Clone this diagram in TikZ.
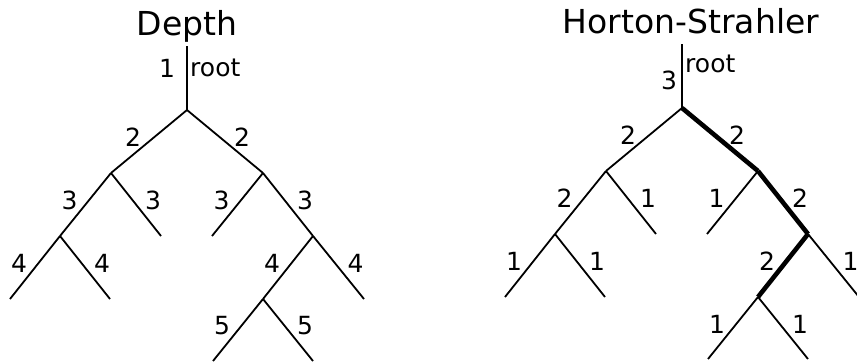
\documentclass[tikz,border=0pt]{standalone}
\usepackage{fontspec}
\setmainfont{DejaVu Sans}
\usetikzlibrary{calc}

\begin{document}
\begin{tikzpicture}[x=1pt,y=-1pt,
  edge/.style={line width=1.8pt},
  main/.style={line width=4.6pt},
  num/.style={font=\fontsize{25}{30}\selectfont,inner sep=0pt},
  ttl/.style={font=\fontsize{33}{40}\selectfont,inner sep=0pt,anchor=base},
  lft/.style={num,midway,xshift=-16pt,yshift=4pt},
  rgt/.style={num,midway,xshift=17pt,yshift=4pt}]
\useasboundingbox (0,0) rectangle (857,362);
% Depth tree
\node[ttl] (dttl) at (187,35) {Depth};
\coordinate (dtop) at (187,46);
\coordinate (droot) at (187,110);
\coordinate (dL) at (111,173);
\coordinate (dR) at (263,173);
\coordinate (dLL) at (60,236);
\coordinate (dLR) at (161,236);
\coordinate (dRL) at (212,236);
\coordinate (dRR) at (313,236);
\coordinate (dLLL) at (10,299);
\coordinate (dLLR) at (110,299);
\coordinate (dRRL) at (263,299);
\coordinate (dRRR) at (364,299);
\coordinate (dRRLL) at (213,361);
\coordinate (dRRLR) at (313,361);
\draw[edge] (dtop) -- (droot);
\node[num] (d1) at (167,68) {1};
\node[num,anchor=west] (dlbl) at (190,68) {root};
\draw[edge] (droot) -- (dL) node[lft] {2};
\draw[edge] (droot) -- (dR) node[rgt] {2};
\draw[edge] (dL) -- (dLL) node[lft] {3};
\draw[edge] (dL) -- (dLR) node[rgt] {3};
\draw[edge] (dR) -- (dRL) node[lft] {3};
\draw[edge] (dR) -- (dRR) node[rgt] {3};
\draw[edge] (dLL) -- (dLLL) node[lft] {4};
\draw[edge] (dLL) -- (dLLR) node[rgt] {4};
\draw[edge] (dRR) -- (dRRL) node[lft] {4};
\draw[edge] (dRR) -- (dRRR) node[rgt] {4};
\draw[edge] (dRRL) -- (dRRLL) node[lft] {5};
\draw[edge] (dRRL) -- (dRRLR) node[rgt] {5};
% Horton-Strahler tree
\node[ttl] (httl) at (691,33) {Horton-Strahler};
\coordinate (htop) at (682,44);
\coordinate (hroot) at (682,108);
\coordinate (hL) at (606,171);
\coordinate (hR) at (758,171);
\coordinate (hLL) at (555,234);
\coordinate (hLR) at (656,234);
\coordinate (hRL) at (707,234);
\coordinate (hRR) at (808,234);
\coordinate (hLLL) at (505,297);
\coordinate (hLLR) at (605,297);
\coordinate (hRRL) at (758,297);
\coordinate (hRRR) at (859,297);
\coordinate (hRRLL) at (708,359);
\coordinate (hRRLR) at (808,359);
\draw[edge] (htop) -- (hroot);
\node[num] (h3) at (669,80) {3};
\node[num,anchor=west] (hlbl) at (685,64) {root};
\draw[edge] (hroot) -- (hL) node[lft] {2};
\draw[main] (hroot) -- (hR) node[rgt] {2};
\draw[edge] (hL) -- (hLL) node[lft] {2};
\draw[edge] (hL) -- (hLR) node[rgt] {1};
\draw[edge] (hR) -- (hRL) node[lft] {1};
\draw[main] (hR) -- (hRR) node[rgt] {2};
\draw[edge] (hLL) -- (hLLL) node[lft] {1};
\draw[edge] (hLL) -- (hLLR) node[rgt] {1};
\draw[main] (hRR) -- (hRRL) node[lft] {2};
\draw[edge] (hRR) -- (hRRR) node[rgt] {1};
\draw[edge] (hRRL) -- (hRRLL) node[lft] {1};
\draw[edge] (hRRL) -- (hRRLR) node[rgt] {1};
\end{tikzpicture}
\end{document}
